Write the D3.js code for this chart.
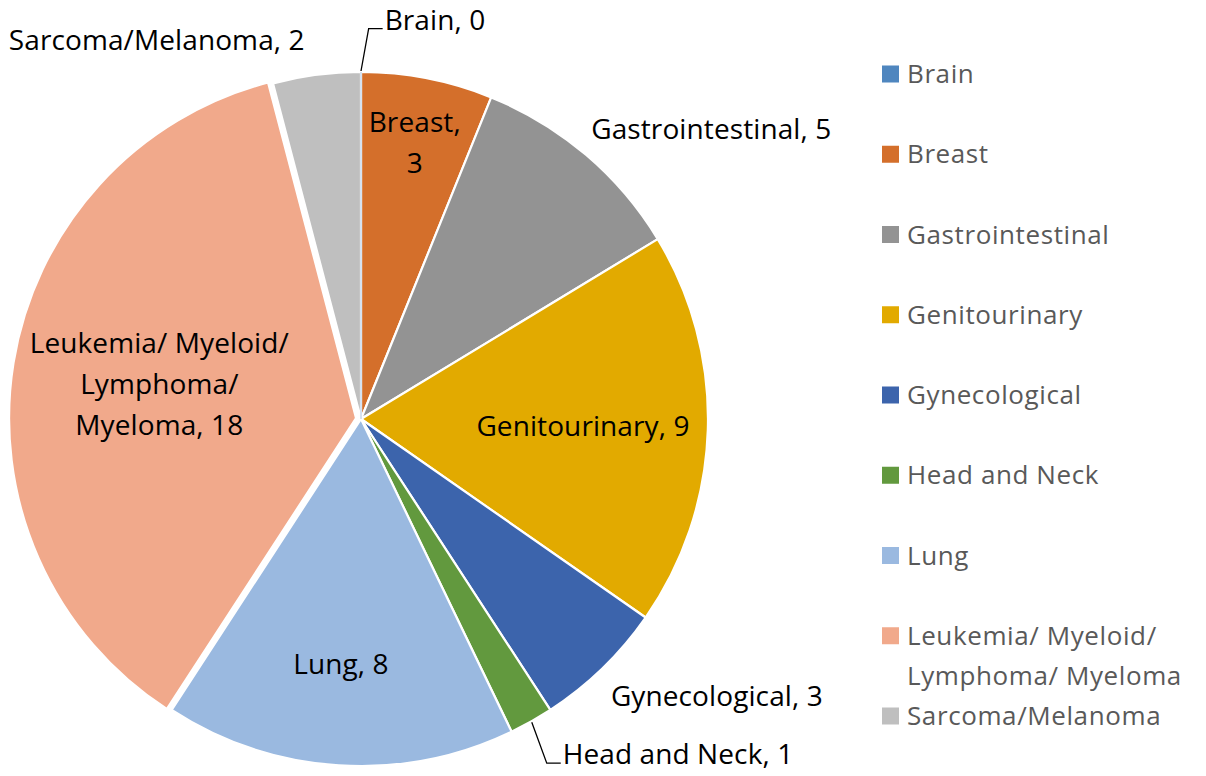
<!DOCTYPE html>
<html>
<head>
<meta charset="utf-8">
<script src="https://cdn.jsdelivr.net/npm/d3@7"></script>
<style>
  body { margin: 0; background: #fff; }
  svg text { font-family: "Open Sans", Lato, sans-serif; }
</style>
</head>
<body>
<div class="chart"></div>
<script>
// data
const categories = ["Brain", "Breast", "Gastrointestinal", "Genitourinary", "Gynecological",
                    "Head and Neck", "Lung", "Leukemia/ Myeloid/ Lymphoma/ Myeloma", "Sarcoma/Melanoma"];
const values = [0, 3, 5, 9, 3, 1, 8, 18, 2];
const colors = ["#4f86bf", "#d46f2b", "#939393", "#e2aa00", "#3c64ac", "#62993e", "#9ab9e0", "#f1a98b", "#bfbfbf"];
// data label text lines (as shown on the slices)
const labelLines = [["Brain, 0"], ["Breast,", "3"], ["Gastrointestinal, 5"], ["Genitourinary, 9"],
                    ["Gynecological, 3"], ["Head and Neck, 1"], ["Lung, 8"],
                    ["Leukemia/ Myeloid/", "Lymphoma/", "Myeloma, 18"], ["Sarcoma/Melanoma, 2"]];
const legendLines = [["Brain"], ["Breast"], ["Gastrointestinal"], ["Genitourinary"], ["Gynecological"],
                     ["Head and Neck"], ["Lung"], ["Leukemia/ Myeloid/", "Lymphoma/ Myeloma"], ["Sarcoma/Melanoma"]];

// label placement: [radius factor, angle shift in degrees, leader line?]
const labelPlace = [[1.17, 10.5, true], [0.81, 0, false], [1.31, 10, false], [0.64, 0, false],
                    [1.30, -8, false], [1.33, -14, true], [0.71, 1, false], [0.59, 0.7, false], [1.24, -21, false]];

const width = 1206, height = 776;
const cx = 361, cy = 419, r = 347;
const explode = 5;   // leukemia slice pulled out

const svg = d3.select('.chart').append('svg')
    .attr('width', width)
    .attr('height', height);

const data = categories.map((c, i) => ({name: c, value: values[i], i: i}));
const pie = d3.pie().sort(null).value(d => d.value);
const arcs = pie(data);
const arc = d3.arc().innerRadius(0).outerRadius(r);

const g = svg.append('g').attr('transform', 'translate(' + cx + ',' + cy + ')');

const polar = (ang, rad) => [Math.sin(ang) * rad, -Math.cos(ang) * rad];

g.selectAll('.slice')
    .data(arcs)
    .enter().append('path')
    .attr('class', 'slice')
    .attr('d', arc)
    .attr('transform', d => {
        if (d.data.i !== 7) return null;
        const p = polar((d.startAngle + d.endAngle) / 2, explode);
        return 'translate(' + p[0] + ',' + p[1] + ')';
    })
    .style('fill', d => colors[d.data.i])
    .style('stroke', '#fff')
    .style('stroke-width', 2.2)
    .style('stroke-linejoin', 'round');

// zero-valued slice shows as a thin line
arcs.filter(d => d.value === 0).forEach(d => {
    const p = polar(d.startAngle, r);
    g.append('line')
        .attr('x1', 0).attr('y1', 0)
        .attr('x2', p[0]).attr('y2', p[1])
        .style('stroke', '#c9d9ec')
        .style('stroke-width', 1.5);
});

// data labels
arcs.forEach(d => {
    const pl = labelPlace[d.data.i];
    const mid = (d.startAngle + d.endAngle) / 2 + pl[1] * Math.PI / 180;
    const p = polar(mid, r * pl[0]);
    const lines = labelLines[d.data.i];
    const lh = 41;
    const t = g.append('text')
        .attr('text-anchor', 'middle')
        .style('font-size', '28px')
        .style('letter-spacing', '0.1px')
        .style('fill', '#000');
    lines.forEach((ln, k) => {
        t.append('tspan')
            .attr('x', p[0])
            .attr('y', p[1] + (k - (lines.length - 1) / 2) * lh)
            .attr('dy', '0.35em')
            .text(ln);
    });
    if (pl[2]) {
        const bb = t.node().getBBox();
        const s = polar((d.startAngle + d.endAngle) / 2, r + 1);
        const by = bb.y + bb.height - 9;
        g.append('polyline')
            .attr('points', [s, [bb.x - 16, by], [bb.x - 2, by]].map(q => q.join(',')).join(' '))
            .style('fill', 'none')
            .style('stroke', '#000')
            .style('stroke-width', 1.3);
    }
});

// legend
const legend = svg.append('g').attr('transform', 'translate(882,0)');
const rowY = d3.scalePoint().domain(categories).range([74, 716]);
categories.forEach((c, i) => {
    const lines = legendLines[i];
    legend.append('rect')
        .attr('x', 0).attr('y', rowY(c) - 8.5)
        .attr('width', 17).attr('height', 17)
        .style('fill', colors[i]);
    const t = legend.append('text')
        .style('font-size', '26px')
        .style('letter-spacing', '0.6px')
        .style('fill', '#595959');
    lines.forEach((ln, k) => {
        t.append('tspan')
            .attr('x', 25)
            .attr('y', rowY(c) + k * 40)
            .attr('dy', '0.35em')
            .text(ln);
    });
});
</script>
</body>
</html>
